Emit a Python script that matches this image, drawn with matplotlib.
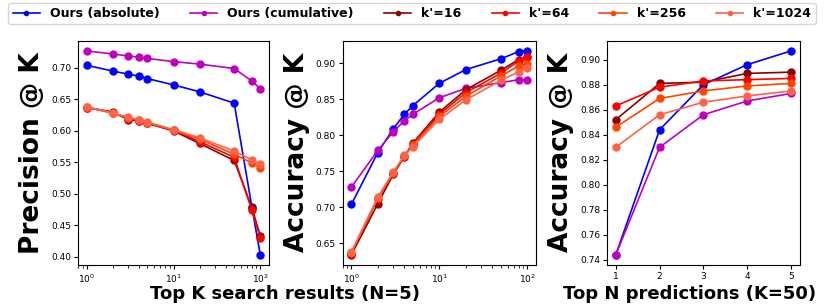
import matplotlib
matplotlib.use('Agg')
import matplotlib.pyplot as plt

# x values
top_k = [1, 2, 3, 4, 5, 10, 20, 50, 80, 100]
top_n = [1, 2, 3, 4, 5]

labels = ['Ours (absolute)', 'Ours (cumulative)', "k'=16", "k'=64", "k'=256", "k'=1024"]
colors = ['blue', 'm', 'darkred', 'red', 'orangered', 'tomato']

# Precision @ K vs top K (N=5)
prec_abs = [0.704, 0.695, 0.690, 0.687, 0.683, 0.673, 0.662, 0.644, 0.479, 0.403]
prec_cum = [0.727, 0.722, 0.719, 0.717, 0.715, 0.710, 0.706, 0.699, 0.679, 0.667]
prec_k16 = [0.637, 0.630, 0.618, 0.616, 0.612, 0.600, 0.580, 0.553, 0.478, 0.433]
prec_k64 = [0.637, 0.629, 0.619, 0.616, 0.612, 0.601, 0.583, 0.558, 0.474, 0.430]
prec_k256 = [0.638, 0.628, 0.621, 0.617, 0.613, 0.601, 0.587, 0.563, 0.549, 0.541]
prec_k1024 = [0.638, 0.628, 0.622, 0.618, 0.614, 0.602, 0.589, 0.568, 0.554, 0.547]

# Accuracy @ K vs top K (N=5)
acc_abs = [0.704, 0.776, 0.809, 0.829, 0.841, 0.872, 0.891, 0.906, 0.916, 0.917]
acc_cum = [0.728, 0.779, 0.805, 0.820, 0.829, 0.852, 0.865, 0.873, 0.877, 0.877]
acc_k16 = [0.634, 0.705, 0.746, 0.770, 0.789, 0.832, 0.863, 0.890, 0.905, 0.908]
acc_k64 = [0.636, 0.712, 0.747, 0.771, 0.788, 0.829, 0.859, 0.886, 0.903, 0.909]
acc_k256 = [0.637, 0.713, 0.748, 0.771, 0.786, 0.826, 0.854, 0.882, 0.896, 0.899]
acc_k1024 = [0.638, 0.714, 0.749, 0.772, 0.784, 0.822, 0.849, 0.876, 0.888, 0.893]

# Accuracy @ K vs top N (K=50)
accn_abs = [0.744, 0.844, 0.880, 0.896, 0.907]
accn_cum = [0.744, 0.830, 0.856, 0.867, 0.873]
accn_k16 = [0.852, 0.881, 0.882, 0.889, 0.890]
accn_k64 = [0.863, 0.878, 0.883, 0.884, 0.885]
accn_k256 = [0.846, 0.869, 0.875, 0.879, 0.881]
accn_k1024 = [0.830, 0.856, 0.866, 0.871, 0.875]

fig = plt.figure(figsize=(8.31, 3.08), dpi=100)
ax1 = fig.add_axes([0.0939, 0.139, 0.2298, 0.729])
ax2 = fig.add_axes([0.4122, 0.139, 0.2329, 0.729])
ax3 = fig.add_axes([0.7304, 0.139, 0.2322, 0.729])

panels = [
    (ax1, top_k, [prec_abs, prec_cum, prec_k16, prec_k64, prec_k256, prec_k1024], 'Precision @ K'),
    (ax2, top_k, [acc_abs, acc_cum, acc_k16, acc_k64, acc_k256, acc_k1024], 'Accuracy @ K'),
    (ax3, top_n, [accn_abs, accn_cum, accn_k16, accn_k64, accn_k256, accn_k1024], 'Accuracy @ K'),
]

for ax, xs, series, ylab in panels:
    for ys, c, lab in zip(series, colors, labels):
        ax.plot(xs, ys, marker='o', color=c, lw=1.2, ms=5, label=lab)
    ax.set_ylabel(ylab, fontsize=19, fontweight='bold', labelpad=4)
    ax.tick_params(labelsize=6.5, length=3, pad=2)

ax1.set_xscale('log')
ax2.set_xscale('log')
ax3.set_xticks(top_n)

fig.text(150 / 831, 0.047, 'Top K search results (N=5)', fontsize=13,
         fontweight='bold', ha='left', va='center')
fig.text(563 / 831, 0.047, 'Top N predictions (K=50)', fontsize=13,
         fontweight='bold', ha='left', va='center')

handles, labs = ax1.get_legend_handles_labels()
fig.legend(handles, labs, loc='upper left', bbox_to_anchor=(0.007, 1.0), ncol=6,
           prop={'weight': 'bold', 'size': 9}, markerscale=0.6, handlelength=2.2,
           columnspacing=2.4, handletextpad=0.8, borderpad=0.35, borderaxespad=0.2,
           fancybox=True)

fig.savefig('out.png', dpi=100)
